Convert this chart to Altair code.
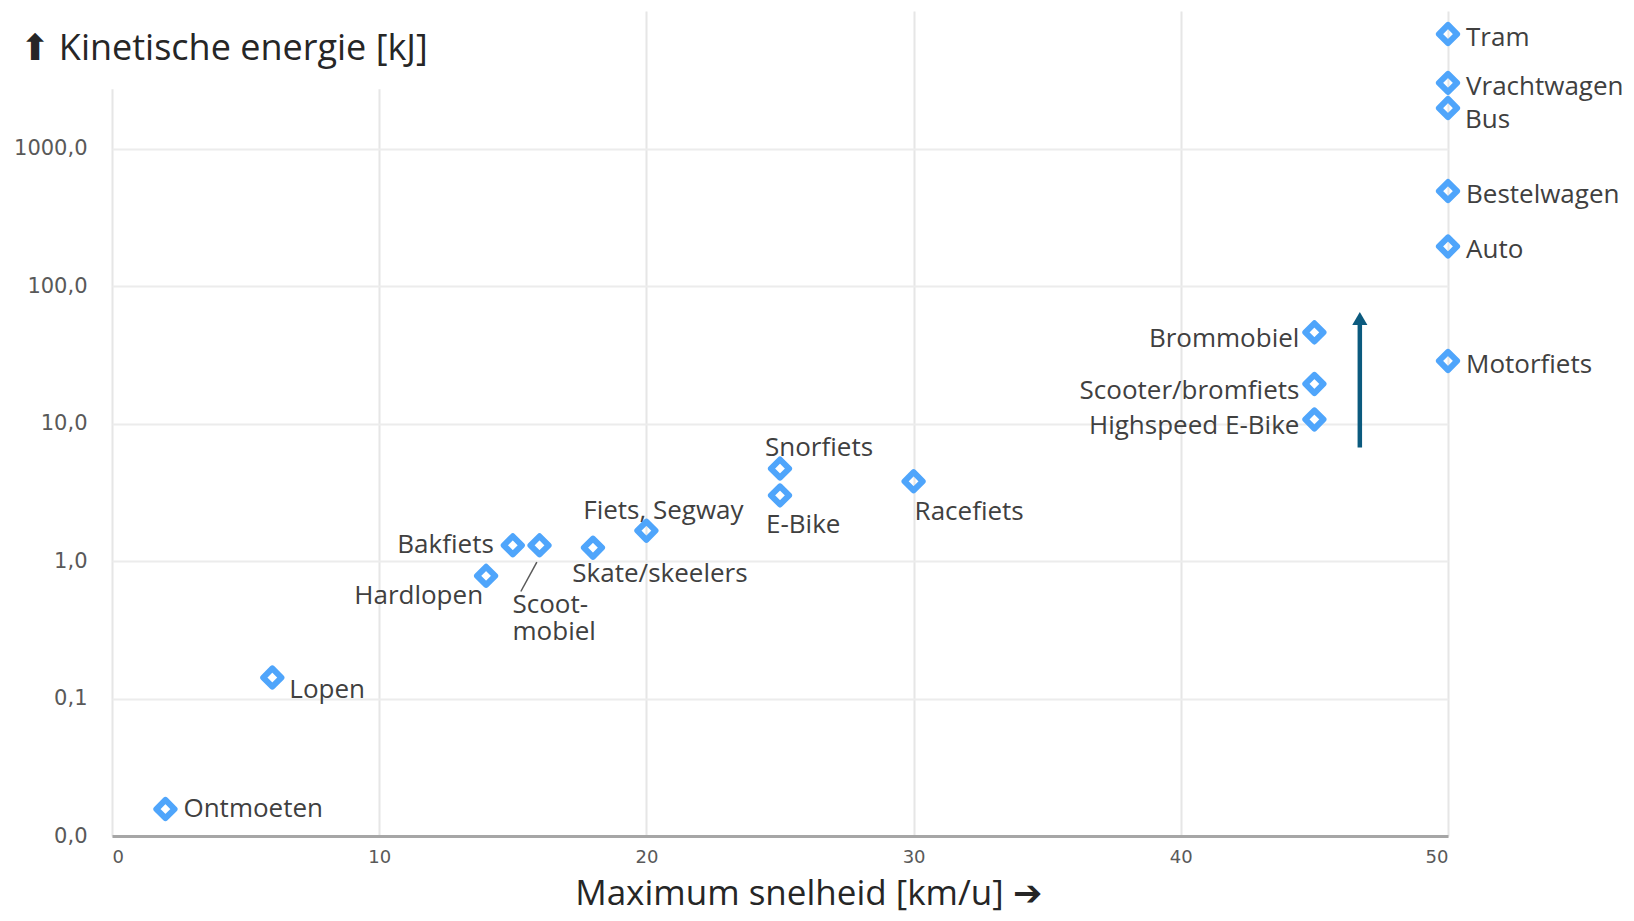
import altair as alt
import pandas as pd

# ---------------- data ----------------
names = ["Ontmoeten", "Lopen", "Hardlopen", "Bakfiets", "Scootmobiel",
         "Skate/skeelers", "Fiets, Segway", "Snorfiets", "E-Bike", "Racefiets",
         "Highspeed E-Bike", "Scooter/bromfiets", "Brommobiel", "Motorfiets",
         "Auto", "Bestelwagen", "Bus", "Vrachtwagen", "Tram"]
label_texts = ["Ontmoeten", "Lopen", "Hardlopen", "Bakfiets", "Scoot-\nmobiel",
               "Skate/skeelers", "Fiets, Segway", "Snorfiets", "E-Bike", "Racefiets",
               "Highspeed E-Bike", "Scooter/bromfiets", "Brommobiel", "Motorfiets",
               "Auto", "Bestelwagen", "Bus", "Vrachtwagen", "Tram"]
speed = [2, 6, 14, 15, 16, 18, 20, 25, 25, 30, 45, 45, 45, 50, 50, 50, 50, 50, 50]
energy = [0.0157, 0.142, 0.78, 1.3, 1.3, 1.25, 1.66, 4.7, 3.0, 3.8,
          10.7, 19.4, 46, 28.5, 194, 490, 1970, 3000, 6800]

x_ticks = [0, 10, 20, 30, 40, 50]
y_ticks = [0.01, 0.1, 1, 10, 100, 1000]

# annotation arrow (data units)
arrow_speed = [46.7]
arrow_energy = [6.7, 58.0]
# leader line for Scootmobiel (data units)
leader_speed = [15.9, 15.3]
leader_energy = [0.98, 0.60]
# white box behind the y title (data units)
mask_speed = [-0.5, 12.3]
mask_energy = [2700, 10000]

df = pd.DataFrame({"name": names, "label": label_texts, "speed": speed, "energy": energy})

# ---------------- style ----------------
BLUE = "#4fa5fb"
LABEL_FONT = "Open Sans"
LABEL_COLOR = "#404040"
PLOT_W, PLOT_H = 1336, 825

xscale = alt.Scale(domain=[0, 50], nice=False, zero=False)
yscale = alt.Scale(type="log", domain=[0.01, 10000], nice=False)

xaxis = alt.Axis(values=x_ticks, title="Maximum snelheid [km/u] ➔",
                 grid=True, gridColor="#e6e6e6", gridWidth=2,
                 domainColor="#a6a6a6", domainWidth=3, ticks=False,
                 labelFont="DejaVu Sans", labelFontSize=18, labelColor="#595959",
                 labelPadding=12,
                 titleFont="Open Sans", titleFontSize=35, titleFontWeight="normal",
                 titleColor="#262626", titleLimit=2000,
                 titleX=696, titleY=68, titleAlign="center", titleBaseline="alphabetic")
yaxis = alt.Axis(values=y_ticks, title=None,
                 grid=True, gridColor="#ececec", gridWidth=2,
                 domain=False, ticks=False,
                 labelExpr="replace(format(datum.value, '.1f'), '.', ',')",
                 labelFont="DejaVu Sans", labelFontSize=21, labelColor="#595959",
                 labelPadding=25)
# axis carrying only the (horizontal) y title, drawn above the marks
ytitle_axis = alt.Axis(orient="right", title="⬆ Kinetische energie [kJ]",
                       labels=False, ticks=False, domain=False, grid=False, zindex=1,
                       titleFont=LABEL_FONT, titleFontSize=36, titleFontWeight="normal",
                       titleColor="#262626", titleAngle=0, titleAlign="left",
                       titleBaseline="middle", titleX=-(PLOT_W + 93), titleY=37,
                       titleLimit=2000)

X = alt.X("speed:Q", scale=xscale, axis=xaxis)
Y = alt.Y("energy:Q", scale=yscale, axis=yaxis)
Y_T = alt.Y("energy:Q", scale=yscale, axis=ytitle_axis)

# mask (white box behind the y title)
mask_df = pd.DataFrame({"speed": [mask_speed[0]], "speed2": [mask_speed[1]],
                        "energy": [mask_energy[0]], "energy2": [mask_energy[1]]})
mask = alt.Chart(mask_df).mark_rect(color="white").encode(
    x=X, x2="speed2:Q", y=Y_T, y2="energy2:Q")

points = alt.Chart(df).mark_point(shape="diamond", filled=False, color=BLUE,
                                  strokeWidth=6, size=330, strokeJoin="round",
                                  opacity=1).encode(x=X, y=Y)

placements = [
    (["Tram", "Vrachtwagen", "Bestelwagen", "Auto", "Motorfiets"], 18, 4, "left", "middle"),
    (["Ontmoeten"], 18, 0, "left", "middle"),
    (["Bus", "Lopen"], 17, 12, "left", "middle"),
    (["Brommobiel", "Scooter/bromfiets", "Highspeed E-Bike"], -15, 7, "right", "middle"),
    (["Bakfiets"], -19, 0, "right", "middle"),
    (["Racefiets"], 1, 31, "left", "middle"),
    (["E-Bike"], -14, 30, "left", "middle"),
    (["Snorfiets"], -15, -21, "left", "middle"),
    (["Fiets, Segway"], 17, -20, "center", "middle"),
    (["Skate/skeelers"], 67, 26, "center", "middle"),
    (["Hardlopen"], -3, 20, "right", "middle"),
    (["Scootmobiel"], -27, 47, "left", "top"),
]

label_layers = []
for group, dx, dy, align, baseline in placements:
    label_layers.append(
        alt.Chart(df).transform_filter(
            alt.FieldOneOfPredicate(field="name", oneOf=group)
        ).mark_text(dx=dx, dy=dy, align=align, baseline=baseline,
                    font=LABEL_FONT, fontSize=26, color=LABEL_COLOR,
                    lineBreak="\n", lineHeight=27).encode(x=X, y=Y, text="label:N")
    )

leader_df = pd.DataFrame({"speed": [leader_speed[0]], "speed2": [leader_speed[1]],
                          "energy": [leader_energy[0]], "energy2": [leader_energy[1]]})
leader = alt.Chart(leader_df).mark_rule(color="#595959", strokeWidth=1.5).encode(
    x=X, x2="speed2:Q", y=Y, y2="energy2:Q")

ARROW = "#0b5a7e"
arrow_df = pd.DataFrame({"speed": arrow_speed, "energy": [arrow_energy[0]],
                         "energy2": [arrow_energy[1]]})
arrow_line = alt.Chart(arrow_df).mark_rule(color=ARROW, strokeWidth=4.5).encode(
    x=X, y=Y, y2="energy2:Q")
head_df = pd.DataFrame({"speed": arrow_speed, "energy": [arrow_energy[1]]})
arrow_head = alt.Chart(head_df).mark_point(shape="triangle-up", filled=True,
                                           color=ARROW, size=230, opacity=1).encode(x=X, y=Y)

main = alt.layer(leader, arrow_line, arrow_head, points, *label_layers)

chart = alt.layer(mask, main).resolve_scale(y="independent").properties(
    width=PLOT_W, height=PLOT_H,
    padding={"left": 104, "top": 3, "right": 178, "bottom": 77},
    autosize=alt.AutoSizeParams(type="none"),
    background="white",
).configure_view(stroke=None)

chart.save("out.html", embed_options={"renderer": "svg", "actions": False})
